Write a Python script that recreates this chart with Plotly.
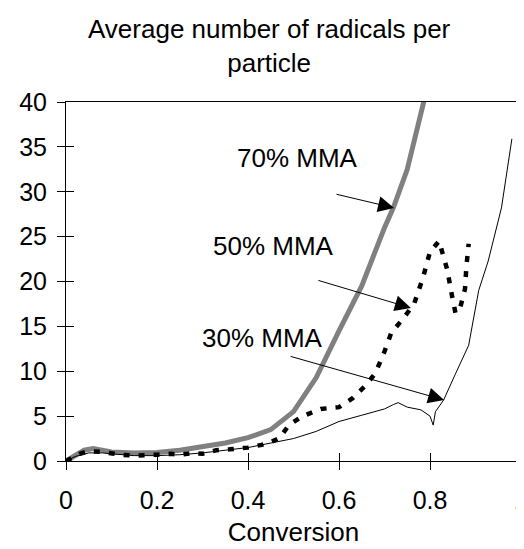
import plotly.graph_objects as go

# ---- data ----
x70 = [0, 0.02, 0.04, 0.06, 0.08, 0.10, 0.15, 0.20, 0.25, 0.30, 0.35, 0.40, 0.45,
       0.50, 0.55, 0.60, 0.65, 0.70, 0.72, 0.75, 0.77, 0.79]
y70 = [0, 0.6, 1.2, 1.4, 1.2, 1.0, 0.9, 0.95, 1.2, 1.6, 2.0, 2.6, 3.5,
       5.5, 9.3, 14.5, 19.5, 26.0, 28.3, 32.5, 36.5, 40.8]

x50 = [0, 0.01, 0.03, 0.05, 0.08, 0.12, 0.15, 0.20, 0.23, 0.25, 0.28, 0.30, 0.33,
       0.36, 0.40, 0.43, 0.45, 0.47, 0.49, 0.52, 0.56, 0.60, 0.63, 0.66, 0.68,
       0.70, 0.715, 0.74, 0.765, 0.785, 0.80, 0.82, 0.838, 0.848, 0.856, 0.865,
       0.877, 0.88, 0.885]
y50 = [0, 0.3, 0.8, 1.1, 1.0, 0.7, 0.6, 0.7, 0.8, 0.7, 0.9, 0.8, 1.2,
       1.3, 1.5, 1.8, 2.1, 2.6, 4.0, 5.0, 5.8, 6.0, 7.0, 8.5, 9.8,
       12.2, 14.3, 15.8, 17.5, 20.5, 23.3, 24.5, 21.3, 18.5, 16.5, 16.8,
       19.2, 21.7, 24.2]

x30 = [0, 0.02, 0.05, 0.08, 0.10, 0.15, 0.20, 0.25, 0.30, 0.35, 0.40, 0.45, 0.50,
       0.55, 0.60, 0.65, 0.68, 0.70, 0.72, 0.73, 0.75, 0.78, 0.80, 0.807, 0.812,
       0.83, 0.855, 0.885, 0.907, 0.928, 0.957, 0.98]
y30 = [0, 0.5, 0.9, 0.9, 0.8, 0.6, 0.6, 0.7, 0.9, 1.2, 1.5, 2.0, 2.5,
       3.3, 4.4, 5.1, 5.5, 5.8, 6.3, 6.5, 6.0, 5.7, 5.0, 4.0, 5.5,
       6.8, 9.6, 12.9, 19.0, 22.3, 28.2, 35.9]

labels = ["70% MMA", "50% MMA", "30% MMA"]
label_x = [0.509, 0.457, 0.431]
label_y = [33.8, 24.0, 13.7]
tip_x = [0.721, 0.758, 0.831]
tip_y = [28.2, 17.05, 6.8]
tail_dx = [-59, -94, -155]
tail_dy = [-14, -28, -44]

x_ticks = [0, 0.2, 0.4, 0.6, 0.8, 1]
y_ticks = [0, 5, 10, 15, 20, 25, 30, 35, 40]

title_text = "Average number of radicals per<br>particle"

FONT = "Liberation Sans, Arial, sans-serif"

fig = go.Figure()
fig.add_trace(go.Scatter(x=x70, y=y70, mode="lines", name=labels[0],
                         line=dict(color="#808080", width=5)))
fig.add_trace(go.Scatter(x=x50, y=y50, mode="lines", name=labels[1],
                         line=dict(color="black", width=4.5, dash="6px,9px")))
fig.add_trace(go.Scatter(x=x30, y=y30, mode="lines", name=labels[2],
                         xaxis="x2", yaxis="y2",
                         line=dict(color="black", width=1)))

annotations = [dict(x=0.448, y=1.157, xref="paper", yref="paper", text=title_text,
                    showarrow=False, xanchor="center", yanchor="middle",
                    font=dict(family=FONT, size=26, color="black"))]
for t, lx, ly, hx, hy, dx, dy in zip(labels, label_x, label_y, tip_x, tip_y, tail_dx, tail_dy):
    annotations.append(dict(x=lx, y=ly, xref="x", yref="y", text=t, showarrow=False,
                            font=dict(family=FONT, size=26, color="black")))
    annotations.append(dict(x=hx, y=hy, xref="x", yref="y", text="", showarrow=True,
                            ax=dx, ay=dy, arrowhead=2, arrowsize=3.2, arrowwidth=1,
                            arrowcolor="black"))

axis_common = dict(showgrid=False, zeroline=False)
fig.update_layout(
    width=524, height=549, autosize=False,
    margin=dict(l=58, r=4, t=94, b=96),
    paper_bgcolor="white", plot_bgcolor="white",
    showlegend=False,
    font=dict(family=FONT, size=25, color="black"),
    xaxis=dict(range=[0, 1], tickvals=x_ticks, ticks="outside", ticklen=8,
               tickcolor="black", showline=True, linecolor="black", linewidth=1,
               mirror=True, ticklabelstandoff=9, ticklabeloverflow="allow",
               title=dict(text="Conversion", standoff=9,
                          font=dict(family=FONT, size=26)), **axis_common),
    yaxis=dict(range=[0, 40], tickvals=y_ticks, ticks="outside", ticklen=8,
               tickcolor="black", showline=True, linecolor="black", linewidth=1,
               mirror=True, ticklabelstandoff=5, **axis_common),
    xaxis2=dict(range=[0, 1], tickvals=x_ticks, overlaying="x", side="bottom", anchor="y",
                ticks="inside", ticklen=8, tickcolor="black", showticklabels=False,
                showline=False, **axis_common),
    yaxis2=dict(range=[0, 40], tickvals=y_ticks, overlaying="y", side="left", anchor="x",
                ticks="inside", ticklen=8, tickcolor="black", showticklabels=False,
                showline=False, **axis_common),
    annotations=annotations,
)

fig.write_html("out.html")
